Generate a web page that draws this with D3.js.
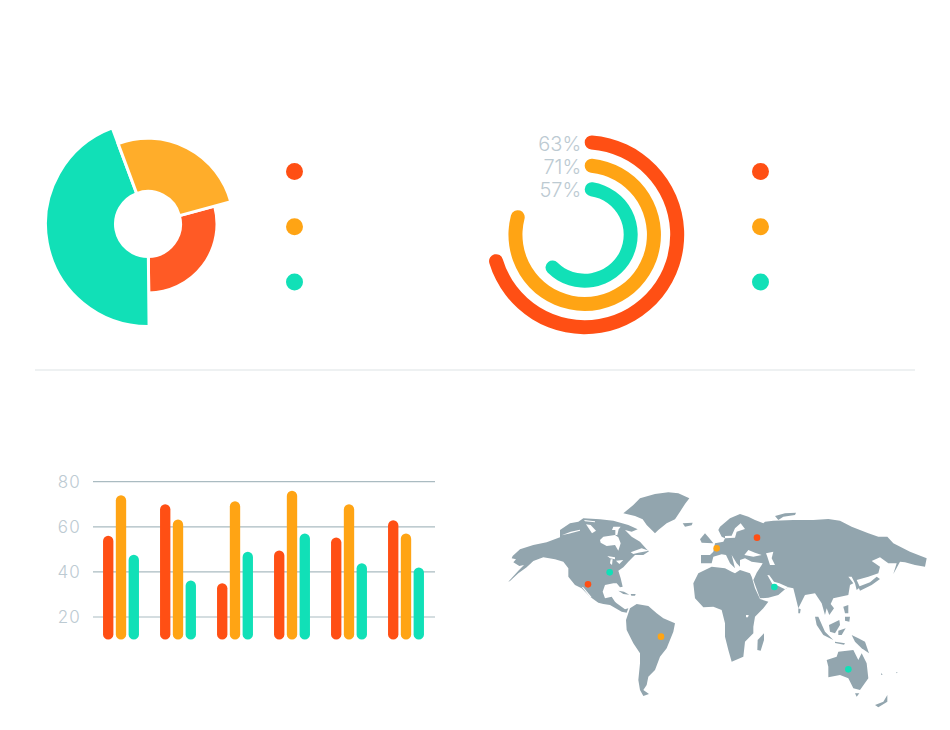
<!DOCTYPE html>
<html><head><meta charset="utf-8">
<script src="https://cdn.jsdelivr.net/npm/d3@7/dist/d3.min.js"></script>
<style>html,body{margin:0;padding:0;background:#fff}svg{display:block}text{font-family:Inter,Lato,sans-serif;font-weight:300}</style>
</head><body><svg id="c" width="950" height="730"></svg>
<script>
const RED="#FF4F14",ORANGE="#FFA414",TEAL="#11E0B7",MUTED="#BCCAD2",LAND="#92A5AE";
const pieShare=[29,44.5,26.5];
const pieMagnitude=[1,2,1.5];
const pieColors=["#FF5A25","#11E0B7","#FFAD2A"];
const ringLabels=["63%","71%","57%"];
const ringValues=[63,71,57];
const ringRank=[3,2,1];
const ringColors=[RED,ORANGE,TEAL];
const barCategories=["A","B","C","D","E","F"];
const barSeriesNames=["red","orange","teal"];
const barRed=[56,70,35,49.5,55.3,62.9];
const barOrange=[74,63.2,71.3,76,70,57];
const barTeal=[47.6,36.2,48.9,57,43.8,42];
const barTicks=[20,40,60,80];
// Map outlines traced in two sheets of tracing units (1/3 pixel each)
const landWest=[
[[38,228],[60,208],[100,195],[140,187],[180,172],[180,150],[210,130],[235,125],[250,115],[300,118],[340,122],[385,135],[413,148],[395,155],[375,150],[395,170],[420,185],[440,208],[447,214],[430,225],[405,225],[385,245],[370,262],[355,272],[362,295],[368,320],[360,322],[350,310],[340,310],[315,315],[308,335],[315,355],[335,350],[345,365],[350,370],[375,388],[385,385],[380,398],[365,395],[330,375],[310,372],[295,368],[270,350],[245,325],[225,315],[205,290],[205,265],[190,245],[165,238],[130,232],[100,243],[80,262],[55,280],[30,303],[25,305],[55,272],[72,255],[58,258],[40,247],[48,238],[35,235]],
[[370,100],[400,75],[420,55],[465,42],[505,37],[535,40],[568,55],[555,72],[540,95],[525,118],[500,130],[475,150],[465,160],[440,135],[428,118],[405,108]],
[[548,130],[578,128],[575,136],[555,140]],
[[355,332],[372,335],[388,344],[370,342]],
[[392,342],[407,342],[405,347],[394,347]],
[[378,420],[390,385],[410,372],[445,378],[470,400],[490,415],[525,430],[520,455],[510,480],[500,505],[480,530],[465,570],[445,590],[440,615],[430,630],[447,642],[430,648],[420,630],[415,600],[420,550],[420,520],[400,490],[380,450]]
];
const waterWest=[
[[300,180],[310,170],[345,165],[355,172],[362,190],[355,212],[345,195],[320,198],[302,188]],
[[392,217],[425,205],[447,212],[415,218],[400,222]],
[[322,228],[345,232],[345,238],[330,235]],
[[332,238],[338,238],[336,255],[330,250]],
[[348,242],[370,240],[358,252]],
[[245,320],[250,322],[275,352],[270,352]],
[[185,166],[212,155],[240,149],[240,152],[212,160]],
[[252,120],[285,124],[285,127],[255,124]],
[[258,133],[272,135],[288,152],[276,160]],
[[340,140],[362,140],[356,148],[352,165],[346,165],[346,150],[336,150]]
];
const landEast=[
[[85,90],[90,80],[120,55],[150,42],[175,50],[195,60],[220,70],[225,65],[250,62],[310,60],[370,60],[415,57],[450,62],[485,80],[535,100],[565,110],[592,110],[610,130],[660,155],[710,175],[705,200],[675,195],[645,187],[630,185],[610,222],[620,190],[595,190],[570,172],[545,183],[570,200],[565,220],[535,230],[500,240],[510,262],[500,270],[495,250],[485,230],[475,230],[490,250],[480,255],[475,285],[430,295],[422,312],[432,325],[418,345],[410,325],[405,345],[395,310],[375,280],[345,285],[325,325],[310,265],[295,262],[285,268],[265,285],[235,293],[210,295],[190,240],[200,218],[215,195],[218,190],[185,185],[165,175],[150,180],[150,200],[140,190],[125,165],[135,205],[120,190],[108,165],[95,163],[70,170],[65,190],[33,190],[33,165],[60,165],[70,155],[75,130],[100,125],[105,115],[95,110]],
[[255,48],[285,40],[318,38],[315,45],[280,50],[265,60]],
[[45,100],[58,115],[70,130],[35,128],[30,118]],
[[10,250],[25,220],[65,200],[105,205],[125,215],[135,220],[150,210],[180,220],[185,230],[195,265],[210,297],[235,305],[220,325],[195,350],[190,380],[190,400],[165,425],[160,470],[125,485],[115,450],[105,410],[105,370],[95,330],[70,320],[40,322],[15,295]],
[[222,400],[222,420],[212,452],[202,450],[203,420]],
[[505,260],[540,247],[560,230],[570,237],[545,255],[510,272]],
[[325,325],[332,328],[330,340],[325,340]],
[[375,350],[385,350],[405,395],[430,420],[400,405],[380,375]],
[[417,375],[448,360],[450,375],[435,400],[420,395]],
[[445,392],[467,385],[455,405],[445,405]],
[[435,425],[465,430],[462,434],[435,429]],
[[485,405],[505,415],[525,425],[537,460],[515,445],[495,425]],
[[460,320],[475,315],[475,340],[465,340]],
[[465,350],[480,350],[478,365],[465,362]],
[[410,480],[440,470],[445,455],[490,450],[505,480],[515,460],[530,490],[535,535],[510,570],[490,565],[475,535],[450,525],[415,532],[415,500]],
[[495,580],[508,580],[500,590]],
[[555,615],[580,605],[592,585],[592,605],[565,622]],
[[573,518],[578,525],[574,525]],
[[618,517],[623,517],[620,520]]
];
const waterEast=[
[[105,108],[125,107],[135,85],[152,70],[165,87],[140,95],[135,113],[105,115]],
[[163,165],[175,150],[195,158],[215,165],[190,170]],
[[228,160],[250,155],[245,175],[255,195],[240,195],[232,170]],
[[232,225],[238,226],[252,245],[268,250],[295,262],[285,268],[265,258],[247,252]],
[[168,345],[176,345],[174,352],[168,352]]
];
const markersWest=[[264,313,RED],[329,277,TEAL],[483,470,ORANGE]];
const markersEast=[[80,145,ORANGE],[201,113,RED],[253,261,TEAL],[475,508,TEAL]];

const svg=d3.select("#c");
svg.append("line").attr("x1",35).attr("x2",915).attr("y1",370).attr("y2",370).attr("stroke","#E8ECEE").attr("stroke-width",1.5);

// Pie
const pieG=svg.append("g").attr("transform","translate(148,224)");
const rad=d3.scaleLinear().domain([0,2]).range([35.5,102.5]);
const toRad=Math.PI/180;
const pie=d3.pie().sort(null).startAngle(75*toRad).endAngle(435*toRad);
pieG.selectAll("path").data(pie(pieShare)).join("path")
 .attr("d",(d,i)=>d3.arc().innerRadius(32.5).outerRadius(rad(pieMagnitude[i]))(d))
 .attr("fill",(d,i)=>pieColors[i]).attr("stroke","#fff").attr("stroke-width",3);

// Legends
[294.5,760.5].forEach(x=>{
 const ly=d3.scalePoint().domain(ringColors).range([171.5,282]);
 svg.append("g").selectAll("circle").data(ringColors).join("circle")
  .attr("cx",x).attr("cy",d=>ly(d)).attr("r",8.5).attr("fill",d=>d);
});

// Rings
const ringG=svg.append("g").attr("transform","translate(584.7,234.7)");
const ang=d3.scaleLinear().domain([0,88]).range([0,2*Math.PI]);
const rr=d3.scaleLinear().domain([1,3]).range([46,92.5]);
ringG.selectAll("path").data(ringValues).join("path")
 .attr("d",(v,i)=>d3.arc().innerRadius(rr(ringRank[i])-7).outerRadius(rr(ringRank[i])+7).cornerRadius(7).startAngle(0).endAngle(ang(v))())
 .attr("fill",(v,i)=>ringColors[i]);
ringG.selectAll("text").data(ringLabels).join("text")
 .attr("x",-3.5).attr("y",(d,i)=>-rr(ringRank[i])+8.5)
 .attr("text-anchor","end").attr("font-size",20).attr("fill",MUTED).text(d=>d);

// Bars
const x0=d3.scaleBand().domain(barCategories).range([92.5,434.5]).paddingInner(.284).paddingOuter(.142);
const x1=d3.scaleBand().domain(barSeriesNames).range([0,x0.bandwidth()]).padding(.191);
const y=d3.scaleLinear().domain([20,80]).range([617,481.7]);
const barG=svg.append("g");
barG.append("g").selectAll("line").data(barTicks).join("line")
 .attr("x1",93).attr("x2",435).attr("y1",d=>y(d)).attr("y2",d=>y(d)).attr("stroke","#AABBC1").attr("stroke-width",1.2);
barG.append("g").selectAll("text").data(barTicks).join("text")
 .attr("x",81).attr("y",d=>y(d)+6).attr("text-anchor","end").attr("font-size",17).attr("letter-spacing",1.2).attr("fill",MUTED).text(d=>d);
[[barRed,"red",RED],[barOrange,"orange",ORANGE],[barTeal,"teal",TEAL]].forEach(([vals,name,col])=>{
 barG.append("g").selectAll("rect").data(vals).join("rect")
  .attr("x",(v,i)=>x0(barCategories[i])+x1(name)).attr("width",x1.bandwidth())
  .attr("y",v=>y(v)).attr("height",v=>y(10)-y(v)).attr("rx",x1.bandwidth()/2).attr("fill",col);
});

// Map
const wx=d3.scaleLinear().domain([0,660]).range([500,720]),wy=d3.scaleLinear().domain([0,690]).range([480,710]);
const ex=d3.scaleLinear().domain([0,750]).range([690,940]),ey=d3.scaleLinear().domain([0,660]).range([500,720]);
const drawSheet=(land,water,marks,sx,sy)=>{
 const ln=d3.line().x(p=>sx(p[0])).y(p=>sy(p[1]));
 const g=svg.append("g");
 g.append("g").selectAll("path").data(land).join("path").attr("d",d=>ln(d)+"Z").attr("fill",LAND);
 return {g,ln,water,marks,sx,sy};
};
const sheets=[drawSheet(landWest,waterWest,markersWest,wx,wy),drawSheet(landEast,waterEast,markersEast,ex,ey)];
sheets.forEach(s=>{
 s.g.append("g").selectAll("path").data(s.water).join("path").attr("d",d=>s.ln(d)+"Z").attr("fill","#fff");
});
sheets.forEach(s=>{
 s.g.append("g").selectAll("circle").data(s.marks).join("circle")
  .attr("cx",d=>s.sx(d[0])).attr("cy",d=>s.sy(d[1])).attr("r",3.3).attr("fill",d=>d[2]);
});
</script></body></html>
